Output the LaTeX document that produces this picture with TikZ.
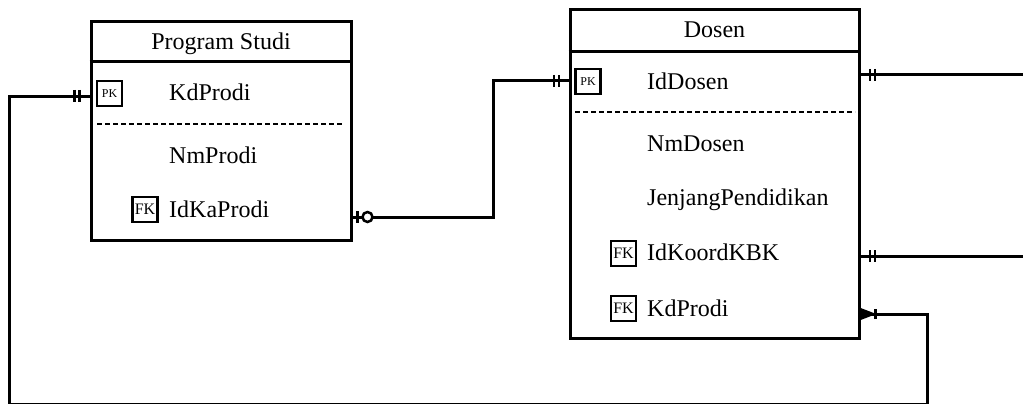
\documentclass[tikz,border=0pt]{standalone}
\usepackage{fontspec}
\setmainfont{Liberation Serif}
\begin{document}
\begin{tikzpicture}[x=1pt,y=-1pt,
  ebox/.style={draw, line width=3pt, inner sep=0pt},
  conn/.style={line width=3pt},
  sep/.style={line width=3pt},
  dline/.style={line width=2.5pt, dash pattern=on 5pt off 3pt},
  keybox/.style={draw, line width=2.5pt, minimum size=25pt, inner sep=0pt},
  pkfont/.style={font=\fontsize{12}{12}\selectfont},
  fkfont/.style={font=\fontsize{16}{16}\selectfont},
  attr/.style={anchor=base west, inner sep=0pt, font=\fontsize{24}{28}\selectfont},
  ttl/.style={anchor=base, inner sep=0pt, font=\fontsize{24}{28}\selectfont},
  dbar/.pic={\draw[line width=2.8pt] (-2.5,-6)--(-2.5,6) (2.5,-6)--(2.5,6);},
  sbar/.pic={\draw[line width=2.8pt] (0,-6)--(0,6);}
]
\useasboundingbox (0,0) rectangle (1023,404);

% Program Studi
\node[ebox, minimum width=260pt, minimum height=218pt] (ps) at (221,131) {};
\node[ttl] (pst) at (221,50) {Program Studi};
\draw[sep] (ps.west |- 0,62) -- (ps.east |- 0,62);
\node[keybox, pkfont] (pspk) at (109.5,93.5) {PK};
\node[attr] (psa1) at (169,100) {KdProdi};
\draw[dline] (97,124) -- (344,124);
\node[attr] (psa2) at (169,163) {NmProdi};
\node[keybox, fkfont] (psfk) at (145,209.5) {FK};
\node[attr] (psa3) at (169,217) {IdKaProdi};

% Dosen
\node[ebox, minimum width=289pt, minimum height=328pt] (d) at (714.5,174) {};
\node[ttl] (dt) at (714.5,38) {Dosen};
\draw[sep] (d.west |- 0,52) -- (d.east |- 0,52);
\node[keybox, pkfont] (dpk) at (588,81.5) {PK};
\node[attr] (da1) at (647,89) {IdDosen};
\draw[dline] (575,112) -- (855,112);
\node[attr] (da2) at (647,151) {NmDosen};
\node[attr] (da3) at (647,205) {JenjangPendidikan};
\node[keybox, fkfont] (dfk1) at (623.5,253.5) {FK};
\node[attr] (da4) at (647,260) {IdKoordKBK};
\node[keybox, fkfont] (dfk2) at (623.5,308.5) {FK};
\node[attr] (da5) at (647,316) {KdProdi};

% connector end points
\coordinate (psL) at (ps.west |- 0,96);
\coordinate (psR) at (ps.east |- 0,217);
\coordinate (dL) at (d.west |- 0,81);
\coordinate (dR1) at (d.east |- 0,75);
\coordinate (dR2) at (d.east |- 0,256);
\coordinate (dR3) at (d.east |- 0,314);
\coordinate (out1) at (1023,75);
\coordinate (out2) at (1023,256);

% connectors
\draw[conn] (psL) -- (9,96) -- (9,404.3) -- (927,404.3) -- (927,314) -- (dR3);
\draw[conn] (psR) -- (493,217) -- (493,81) -- (dL);
\draw[conn] (dR1) -- (out1);
\draw[conn] (dR2) -- (out2);

% markers
\pic at ([xshift=-12.5pt]psL) {dbar};
\pic at ([xshift=-12pt]dL) {dbar};
\pic at ([xshift=12pt]dR1) {dbar};
\pic at ([xshift=12pt]dR2) {dbar};
\pic at ([xshift=5pt]psR) {sbar};
\draw[line width=2.5pt, fill=white] ([xshift=15pt]psR) circle (5pt);
\fill ([xshift=0pt,yshift=-5pt]dR3) -- ([xshift=13pt]dR3) -- ([xshift=0pt,yshift=5pt]dR3) -- cycle;
\draw[line width=2pt] ([yshift=-5pt]dR3) -- ([xshift=13pt]dR3) -- ([yshift=5pt]dR3);
\draw[line width=2.8pt] ([xshift=15pt,yshift=-5pt]dR3) -- ([xshift=15pt,yshift=5pt]dR3);
\end{tikzpicture}
\end{document}
